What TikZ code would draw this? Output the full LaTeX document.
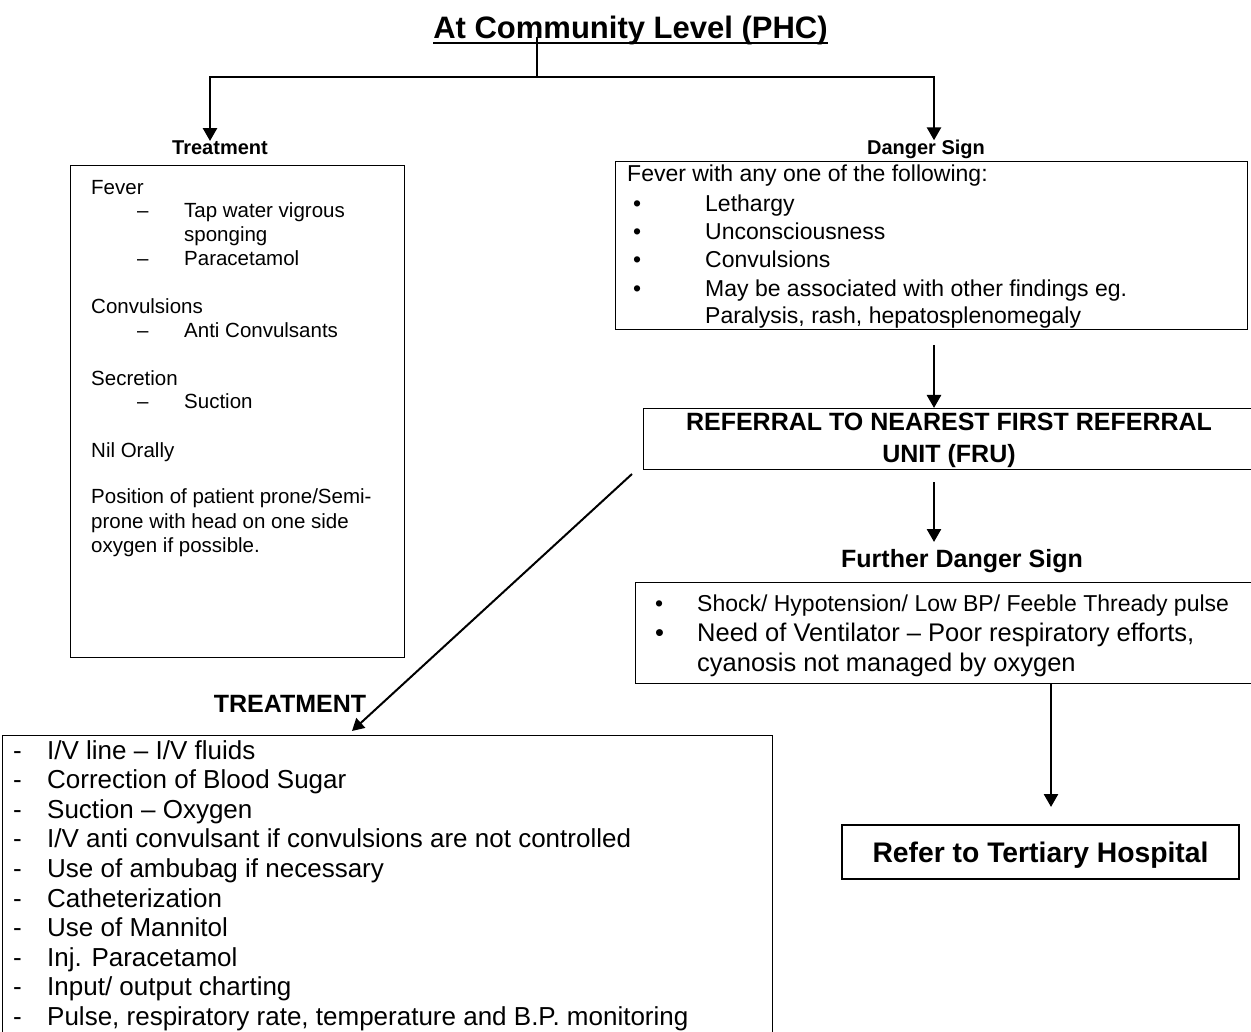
\documentclass[tikz,border=0pt]{standalone}
\usepackage{fontspec}
\setmainfont{Liberation Sans}
\usetikzlibrary{arrows.meta,positioning}

\newcommand{\fsz}[1]{\fontsize{#1}{#1}\selectfont}

\begin{document}
\begin{tikzpicture}[x=1pt, y=-1pt,
    box/.style={draw, line width=1.3pt, inner sep=0pt, anchor=north west},
    link/.style={line width=2.6pt, -{Triangle[width=14pt,length=13pt]}},
    txt/.style={anchor=base west, inner sep=0pt},
    head/.style={anchor=base, inner sep=0pt, font=\fsz{#1}\bfseries}]
    \useasboundingbox (0,0) rectangle (1251,1032);

    % title and split
    \node[head=31] (title) at (630.5,39) {At Community Level (PHC)};
    \draw[line width=1.8pt] ([yshift=-4pt]title.base west) -- ([yshift=-4pt]title.base east);
    \coordinate (stem) at (537,37);
    \coordinate (split) at (537,77);
    \draw[line width=2.6pt] (stem) -- (split);

    \node[head=20] (tlab) at (220,155) {Treatment};
    \node[head=20] (dlab) at (926,155) {Danger Sign};
    \draw[link] (split) -| ([xshift=-10pt]tlab.north);
    \draw[link] (split) -| ([xshift=8pt]dlab.north);

    % left box
    \node[box, minimum width=334pt, minimum height=492pt] (tbox) at (70,165) {};
    \foreach \y/\t in {195/Fever, 314/Convulsions, 385/Secretion, 457/Nil Orally,
        503/{Position of patient prone/Semi-}, 528/prone with head on one side, 552/oxygen if possible.}
        \node[txt, font=\fsz{20.5}] (tl\y) at (91,\y) {\t};
    \foreach \y/\t in {218/Tap water vigrous, 242/sponging, 266/Paracetamol, 338/Anti Convulsants, 408/Suction}
        \node[txt, font=\fsz{20.5}] (ti\y) at (184,\y) {\t};
    \foreach \y in {218,266,338,408}
        \node[txt, font=\fsz{20.5}] (td\y) at (137,\y) {–};

    % danger sign box
    \node[box, minimum width=632pt, minimum height=168pt] (dbox) at (615,161) {};
    \node[txt, font=\fsz{23}] (d0) at (627,182) {Fever with any one of the following:};
    \foreach \y/\t in {212/Lethargy, 240/Unconsciousness, 268/Convulsions, 297/May be associated with other findings eg.}{
        \node[txt, font=\fsz{23}] (db\y) at (633,\y) {•};
        \node[txt, font=\fsz{23}] (di\y) at (705,\y) {\t};
    }
    \node[txt, font=\fsz{23}] (d6) at (705,324) {Paralysis, rash, hepatosplenomegaly};

    % referral
    \node[box, minimum width=620pt, minimum height=61pt] (fru) at (643,408) {};
    \node[head=25] (fru1) at (949,430) {REFERRAL TO NEAREST FIRST REFERRAL};
    \node[head=25] (fru2) at (949,462) {UNIT (FRU)};
    \coordinate (d1) at (934,345);
    \draw[link] (d1) -- (d1 |- fru.north);

    % further danger sign
    \node[head=25] (flab) at (962,567) {Further Danger Sign};
    \coordinate (f1) at (934,482);
    \draw[link] (f1) -- ++(0,60);
    \node[box, minimum width=625pt, minimum height=101pt] (fbox) at (635,582) {};
    \node[txt, font=\fsz{23}] (fb1) at (655,611) {•};
    \node[txt, font=\fsz{23}] (fi1) at (697,611) {Shock/ Hypotension/ Low BP/ Feeble Thready pulse};
    \node[txt, font=\fsz{25.5}] (fb2) at (655,641) {•};
    \node[txt, font=\fsz{25.5}] (fi2) at (697,641) {Need of Ventilator – Poor respiratory efforts,};
    \node[txt, font=\fsz{25.5}] (fi3) at (697,671) {cyanosis not managed by oxygen};

    \node[box, line width=2pt, minimum width=397pt, minimum height=54pt] (refer) at (841,824) {};
    \node[head=28.3] (rlab) at (refer.center |- 0,862) {Refer to Tertiary Hospital};
    \coordinate (f2) at (1051,683);
    \draw[link] (f2) -- ++(0,124);

    % hospital treatment
    \node[head=25] (hlab) at (290,712) {TREATMENT};
    \coordinate (c1) at (632,474);
    \coordinate (c2) at (352,731);
    \draw[line width=2pt, -{Triangle[width=13pt,length=12pt]}] (c1) -- (c2);
    \node[box, minimum width=770pt, minimum height=320pt] (hbox) at (2,735) {};
    \foreach \t [count=\i from 0] in {I/V line – I/V fluids, Correction of Blood Sugar, Suction – Oxygen,
        I/V anti convulsant if convulsions are not controlled, Use of ambubag if necessary,
        Catheterization, Use of Mannitol, Inj. Paracetamol, Input/ output charting,
        {Pulse, respiratory rate, temperature and B.P. monitoring}}{
        \node[txt, font=\fsz{26}] (hd\i) at (13,759+29.6*\i) {-};
        \node[txt, font=\fsz{26}] (hi\i) at (47,759+29.6*\i) {\t};
    }
\end{tikzpicture}
\end{document}
